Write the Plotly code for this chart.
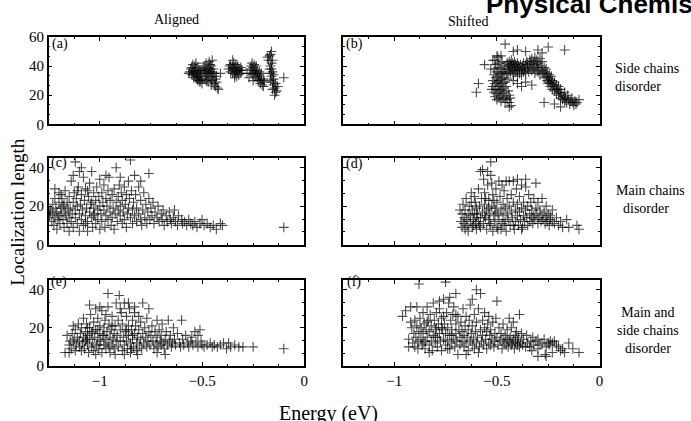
import plotly.graph_objects as go

W, H = 691, 421

# ---------------- data (Energy eV, Localization length) ----------------
a_pts = [
    (-0.56,36),(-0.555,38),(-0.55,34),(-0.55,39),(-0.545,36),(-0.54,32),(-0.54,37),(-0.535,40),(-0.535,35),(-0.53,33),
    (-0.53,38),(-0.525,36),(-0.525,31),(-0.52,34),(-0.52,39),(-0.515,37),(-0.515,32),(-0.51,35),(-0.51,30),(-0.505,33),
    (-0.505,37),(-0.50,31),(-0.50,28),(-0.545,41),(-0.53,42),(-0.52,30),(-0.51,29),(-0.565,35),(-0.54,34),(-0.525,33),
    (-0.49,36),(-0.49,40),(-0.485,33),(-0.485,38),(-0.48,35),(-0.48,42),(-0.475,31),(-0.475,37),(-0.47,39),(-0.47,34),
    (-0.465,36),(-0.465,43),(-0.46,32),(-0.46,38),(-0.455,35),(-0.455,40),(-0.45,30),(-0.45,36),(-0.445,33),(-0.445,38),
    (-0.44,28),(-0.44,35),(-0.435,31),(-0.435,26),(-0.43,29),(-0.43,33),(-0.425,25),(-0.42,24),(-0.47,29),(-0.48,30),
    (-0.455,27),(-0.495,38),(-0.46,41),(-0.41,35),(-0.45,44),
    (-0.37,38),(-0.365,40),(-0.36,36),(-0.36,41),(-0.355,38),(-0.35,35),(-0.35,39),(-0.345,42),(-0.345,37),(-0.34,34),
    (-0.34,39),(-0.335,36),(-0.335,41),(-0.33,38),(-0.33,33),(-0.325,40),(-0.325,36),(-0.32,38),(-0.32,34),(-0.315,37),
    (-0.31,35),(-0.31,39),(-0.305,37),(-0.35,44),(-0.28,35),(-0.34,32),
    (-0.265,38),(-0.26,40),(-0.26,35),(-0.255,42),(-0.255,37),(-0.25,39),(-0.25,34),(-0.245,41),(-0.245,36),(-0.24,38),
    (-0.24,33),(-0.235,35),(-0.235,40),(-0.23,32),(-0.23,37),(-0.225,34),(-0.225,30),(-0.22,36),(-0.22,31),(-0.215,33),
    (-0.215,28),(-0.21,30),(-0.21,35),(-0.205,27),(-0.2,31),(-0.2,26),(-0.195,29),(-0.27,32),(-0.25,30),
    (-0.16,50),(-0.165,48),(-0.17,47),(-0.18,46),(-0.155,44),(-0.16,42),(-0.165,40),(-0.16,38),(-0.155,36),(-0.165,35),
    (-0.16,33),(-0.15,31),(-0.155,29),(-0.165,30),(-0.15,27),(-0.145,25),(-0.155,24),(-0.14,22),(-0.145,20),(-0.135,23),
    (-0.14,28),(-0.15,34),(-0.17,38),(-0.175,44),(-0.10,32),(-0.13,26),
]

b_pts = [
    (-0.52,30),(-0.52,26),(-0.515,34),(-0.515,22),(-0.51,38),(-0.51,28),(-0.51,19),(-0.505,32),(-0.505,24),(-0.505,41),
    (-0.5,36),(-0.5,29),(-0.5,21),(-0.5,17),(-0.495,33),(-0.495,26),(-0.495,39),(-0.49,30),(-0.49,23),(-0.49,18),
    (-0.49,42),(-0.485,35),(-0.485,27),(-0.485,20),(-0.48,38),(-0.48,31),(-0.48,24),(-0.48,16),(-0.475,34),(-0.475,28),
    (-0.475,21),(-0.475,43),(-0.47,36),(-0.47,25),(-0.47,18),(-0.465,40),(-0.465,32),(-0.465,22),(-0.46,29),(-0.46,38),
    (-0.46,15),(-0.455,35),(-0.455,26),(-0.455,19),(-0.45,42),(-0.45,31),(-0.45,17),(-0.445,23),(-0.44,15),(-0.44,20),
    (-0.435,18),(-0.525,24),(-0.51,44),(-0.495,46),(-0.48,47),
    (-0.445,40),(-0.445,36),(-0.44,43),(-0.44,38),(-0.435,35),(-0.435,41),(-0.43,39),(-0.43,44),(-0.425,37),(-0.425,42),
    (-0.42,34),(-0.42,40),(-0.415,38),(-0.415,43),(-0.41,36),(-0.41,41),(-0.405,39),(-0.4,37),(-0.4,42),(-0.4,33),
    (-0.395,40),(-0.39,38),(-0.39,35),(-0.385,41),(-0.38,37),(-0.38,34),(-0.375,39),(-0.37,36),(-0.37,42),(-0.365,38),
    (-0.36,40),(-0.36,35),(-0.355,43),(-0.35,38),(-0.35,41),(-0.345,36),(-0.34,44),(-0.34,39),(-0.335,42),(-0.33,37),
    (-0.33,45),(-0.325,40),(-0.32,43),(-0.32,38),(-0.315,46),(-0.315,35),(-0.31,41),(-0.305,39),(-0.305,44),(-0.3,36),
    (-0.3,42),(-0.295,38),(-0.29,45),(-0.29,34),(-0.285,40),(-0.28,37),(-0.28,43),(-0.275,35),(-0.27,39),(-0.27,32),
    (-0.265,36),(-0.26,33),(-0.26,38),(-0.255,30),(-0.255,35),(-0.25,32),(-0.25,28),(-0.245,34),(-0.245,29),(-0.24,31),
    (-0.24,26),(-0.235,33),(-0.235,28),(-0.23,24),(-0.23,30),(-0.225,27),(-0.22,23),(-0.22,29),(-0.215,25),(-0.21,21),
    (-0.21,27),(-0.205,24),(-0.2,20),(-0.2,26),(-0.195,22),(-0.19,18),(-0.19,24),(-0.185,21),(-0.18,17),(-0.175,19),
    (-0.17,22),(-0.17,16),(-0.165,18),(-0.16,15),(-0.155,20),(-0.15,17),(-0.145,14),(-0.14,16),(-0.135,18),(-0.13,15),
    (-0.125,13),(-0.12,16),(-0.115,14),(-0.11,15),(-0.1,17),
    (-0.6,22),(-0.59,28),(-0.56,41),(-0.46,55),(-0.4,51),(-0.25,53),(-0.17,51),(-0.42,50),(-0.36,50),(-0.3,51),
    (-0.28,49),(-0.4,28),(-0.38,26),(-0.36,29),(-0.33,27),(-0.42,30),(-0.27,15),(-0.19,12),(-0.22,14),(-0.43,13),
    (-0.44,12),(-0.5,47),(-0.53,38),(-0.52,44),
]

c_pts = [
    (-1.245,15),(-1.24,18),(-1.235,12),(-1.23,21),(-1.23,16),(-1.225,10),(-1.22,24),(-1.22,14),(-1.215,19),(-1.21,17),
    (-1.21,8),(-1.205,13),(-1.2,22),(-1.2,15),(-1.2,27),(-1.195,11),(-1.19,19),(-1.19,16),(-1.185,24),(-1.18,13),
    (-1.18,20),(-1.175,9),(-1.17,17),(-1.17,28),(-1.165,15),(-1.16,22),(-1.16,11),(-1.155,18),(-1.15,14),(-1.15,25),
    (-1.15,7),(-1.245,17),(-1.22,29),(-1.19,26),(-1.175,21),
    (-1.145,19),(-1.14,12),(-1.14,33),(-1.135,16),(-1.13,22),(-1.13,9),(-1.125,27),(-1.12,18),(-1.12,14),(-1.12,43),
    (-1.115,24),(-1.11,11),(-1.11,20),(-1.105,30),(-1.1,16),(-1.1,7),(-1.1,38),(-1.095,21),(-1.09,13),(-1.09,26),
    (-1.085,18),(-1.08,35),(-1.08,10),(-1.075,23),(-1.07,15),(-1.07,29),(-1.065,19),(-1.06,12),(-1.06,7),(-1.055,25),
    (-1.05,17),(-1.05,32),(-1.045,21),(-1.04,14),(-1.04,38),(-1.035,9),(-1.03,27),(-1.03,19),(-1.025,16),(-1.02,23),
    (-1.02,11),(-1.015,30),(-1.01,18),(-1.01,13),(-1.005,25),(-1.0,20),(-1.0,8),(-1.0,34),(-1.13,36),(-1.09,40),
    (-1.06,28),(-1.04,22),(-1.11,28),(-1.07,11),(-1.03,15),
    (-0.995,16),(-0.99,27),(-0.99,12),(-0.985,22),(-0.98,18),(-0.98,31),(-0.975,9),(-0.97,24),(-0.97,15),(-0.965,20),
    (-0.96,28),(-0.96,13),(-0.955,35),(-0.95,17),(-0.95,23),(-0.945,10),(-0.94,26),(-0.94,14),(-0.935,19),(-0.93,29),
    (-0.93,8),(-0.925,16),(-0.92,22),(-0.92,40),(-0.915,12),(-0.91,25),(-0.91,18),(-0.905,31),(-0.9,15),(-0.9,20),
    (-0.895,27),(-0.89,11),(-0.89,23),(-0.885,17),(-0.88,30),(-0.88,13),(-0.875,21),(-0.87,26),(-0.87,9),(-0.865,16),
    (-0.86,33),(-0.86,19),(-0.855,24),(-0.85,14),(-0.85,44),(-0.845,28),(-0.84,18),(-0.84,11),(-0.97,36),(-0.9,35),
    (-0.835,22),(-0.83,15),(-0.825,26),(-0.82,12),(-0.82,19),(-0.81,30),(-0.81,16),(-0.8,13),(-0.8,23),(-0.795,10),
    (-0.79,18),(-0.785,27),(-0.78,14),(-0.775,21),(-0.77,11),(-0.765,17),(-0.76,37),(-0.76,24),(-0.755,13),(-0.75,19),
    (-0.745,15),(-0.74,22),(-0.735,11),(-0.73,17),(-0.72,14),(-0.715,20),(-0.71,12),(-0.7,16),(-0.695,13),(-0.69,18),
    (-0.685,10),(-0.8,33),(-0.83,36),
    (-0.675,15),(-0.67,12),(-0.66,17),(-0.655,13),(-0.65,11),(-0.64,14),(-0.635,18),(-0.63,12),(-0.62,10),(-0.615,15),
    (-0.6,13),(-0.595,11),(-0.585,12),(-0.575,10),(-0.565,13),(-0.555,11),(-0.545,10),(-0.535,12),(-0.525,9),(-0.51,11),
    (-0.5,13),(-0.49,10),(-0.475,11),(-0.46,9),(-0.445,10),(-0.43,8),(-0.41,11),(-0.4,10),(-0.1,9),
]

d_pts = [
    (-0.675,12),(-0.67,16),(-0.67,9),(-0.665,21),(-0.66,14),(-0.66,11),(-0.655,18),(-0.65,13),(-0.65,24),(-0.645,10),
    (-0.64,16),(-0.64,7),(-0.635,20),(-0.63,12),(-0.63,15),(-0.625,22),(-0.62,9),(-0.62,18),(-0.615,13),(-0.61,16),
    (-0.61,25),(-0.605,11),(-0.6,19),(-0.6,14),(-0.6,8),(-0.68,18),(-0.655,8),(-0.625,27),(-0.615,10),(-0.605,22),
    (-0.595,16),(-0.59,12),(-0.59,29),(-0.585,20),(-0.58,9),(-0.58,14),(-0.575,24),(-0.57,17),(-0.57,39),(-0.565,11),
    (-0.56,21),(-0.56,27),(-0.555,14),(-0.55,8),(-0.55,18),(-0.545,31),(-0.54,13),(-0.54,23),(-0.535,16),(-0.53,10),
    (-0.53,36),(-0.53,43),(-0.525,20),(-0.52,26),(-0.52,7),(-0.515,15),(-0.51,12),(-0.51,19),(-0.505,29),(-0.5,22),
    (-0.5,9),(-0.495,16),(-0.49,13),(-0.49,33),(-0.485,25),(-0.48,18),(-0.48,8),(-0.475,11),(-0.47,21),(-0.47,15),
    (-0.465,28),(-0.46,12),(-0.46,19),(-0.455,7),(-0.45,24),(-0.45,16),(-0.545,38),(-0.58,38),(-0.565,34),(-0.525,32),
    (-0.585,10),(-0.555,24),(-0.535,11),(-0.515,23),(-0.495,8),(-0.475,31),(-0.465,10),(-0.505,17),(-0.56,15),(-0.54,19),
    (-0.445,13),(-0.44,20),(-0.44,33),(-0.435,10),(-0.43,17),(-0.43,26),(-0.425,14),(-0.42,22),(-0.42,33),(-0.415,8),
    (-0.41,18),(-0.41,12),(-0.405,29),(-0.4,15),(-0.4,21),(-0.395,10),(-0.39,25),(-0.39,17),(-0.385,13),(-0.38,19),
    (-0.38,31),(-0.375,9),(-0.37,15),(-0.37,22),(-0.365,12),(-0.36,18),(-0.36,30),(-0.355,14),(-0.35,20),(-0.35,10),
    (-0.345,26),(-0.34,16),(-0.34,12),(-0.335,22),(-0.33,14),(-0.33,18),(-0.325,11),(-0.32,24),(-0.32,15),(-0.31,32),
    (-0.455,33),(-0.40,34),(-0.36,34),(-0.42,10),(-0.38,8),
    (-0.315,13),(-0.31,19),(-0.305,16),(-0.3,11),(-0.3,22),(-0.295,14),(-0.29,18),(-0.285,12),(-0.28,15),(-0.28,24),
    (-0.275,13),(-0.27,17),(-0.265,11),(-0.26,14),(-0.26,20),(-0.255,12),(-0.25,16),(-0.245,10),(-0.24,13),(-0.24,15),
    (-0.23,12),(-0.22,11),(-0.21,14),(-0.2,10),(-0.19,12),(-0.18,9),(-0.16,13),(-0.15,9),(-0.11,10),(-0.1,8),(-0.23,18),
]

e_pts = [
    (-1.17,7),(-1.16,16),(-1.15,7),(-1.15,11),(-1.145,13),(-1.14,9),(-1.135,17),(-1.13,12),(-1.125,14),(-1.12,8),
    (-1.12,19),(-1.115,11),(-1.11,15),(-1.105,22),(-1.1,10),(-1.1,13),(-1.095,17),(-1.09,8),(-1.09,20),(-1.13,21),
    (-1.085,12),(-1.08,15),(-1.08,25),(-1.075,9),(-1.07,18),(-1.07,13),(-1.065,22),(-1.06,11),(-1.06,16),(-1.055,7),
    (-1.05,20),(-1.05,14),(-1.045,27),(-1.04,10),(-1.04,17),(-1.035,12),(-1.03,23),(-1.03,8),(-1.025,15),(-1.02,19),
    (-1.02,30),(-1.015,11),(-1.01,14),(-1.01,25),(-1.005,9),(-1.0,17),(-1.0,21),(-0.995,13),(-0.99,7),(-0.99,29),
    (-0.985,16),(-0.98,11),(-0.98,20),(-0.975,24),(-0.97,14),(-0.97,9),(-0.965,18),(-0.96,12),(-0.96,31),(-0.955,22),
    (-0.95,15),(-0.95,7),(-0.945,19),(-0.94,11),(-0.94,26),(-0.935,14),(-0.93,17),(-0.93,9),(-0.925,21),(-0.92,13),
    (-0.92,33),(-0.96,38),(-1.05,32),(-1.0,31),(-0.97,27),(-1.06,20),(-1.02,6),(-0.98,16),(-0.955,10),(-1.035,18),
    (-0.925,6),(-1.0,11),(-0.94,21),(-1.065,14),(-1.01,19),
    (-0.915,16),(-0.91,10),(-0.91,24),(-0.905,37),(-0.9,19),(-0.9,13),(-0.895,28),(-0.89,8),(-0.89,22),(-0.885,15),
    (-0.88,11),(-0.88,33),(-0.875,18),(-0.87,26),(-0.87,13),(-0.865,9),(-0.86,21),(-0.86,16),(-0.855,30),(-0.85,12),
    (-0.85,7),(-0.845,19),(-0.84,24),(-0.84,14),(-0.835,10),(-0.83,17),(-0.83,28),(-0.825,21),(-0.82,12),(-0.82,8),
    (-0.815,15),(-0.81,26),(-0.81,19),(-0.805,11),(-0.8,14),(-0.8,23),(-0.795,9),(-0.79,17),(-0.79,33),(-0.785,12),
    (-0.78,20),(-0.775,15),(-0.77,10),(-0.77,25),(-0.765,13),(-0.76,18),(-0.76,30),(-0.86,33),(-0.83,31),(-0.9,30),
    (-0.88,6),(-0.845,9),(-0.815,6),(-0.87,19),(-0.84,16),
    (-0.755,11),(-0.75,16),(-0.745,21),(-0.74,13),(-0.735,9),(-0.73,18),(-0.725,12),(-0.72,15),(-0.72,24),(-0.715,10),
    (-0.71,19),(-0.705,13),(-0.7,11),(-0.7,16),(-0.695,22),(-0.69,12),(-0.685,9),(-0.68,14),(-0.675,18),(-0.67,11),
    (-0.665,24),(-0.66,13),(-0.655,16),(-0.65,10),(-0.645,12),(-0.64,20),(-0.635,14),(-0.63,11),(-0.62,17),(-0.61,12),
    (-0.6,24),(-0.605,10),(-0.72,7),(-0.68,6),
    (-0.595,14),(-0.59,11),(-0.58,16),(-0.57,12),(-0.565,10),(-0.555,13),(-0.545,11),(-0.535,18),(-0.53,12),(-0.52,10),
    (-0.51,19),(-0.505,13),(-0.5,11),(-0.49,10),(-0.475,11),(-0.46,12),(-0.45,10),(-0.44,11),(-0.425,10),(-0.41,11),
    (-0.395,12),(-0.38,9),(-0.37,12),(-0.36,10),(-0.34,11),(-0.32,10),(-0.3,10),(-0.25,10),(-0.1,9),(-0.55,15),(-0.52,16),
]

f_pts = [
    (-0.96,26),(-0.945,29),(-0.93,14),(-0.93,10),(-0.92,31),(-0.915,20),(-0.91,12),(-0.905,17),(-0.9,24),(-0.9,10),
    (-0.895,15),(-0.89,21),(-0.89,31),(-0.885,13),(-0.88,18),(-0.88,43),(-0.885,9),(-0.92,23),
    (-0.875,25),(-0.87,14),(-0.87,20),(-0.865,11),(-0.86,17),(-0.86,28),(-0.855,22),(-0.85,13),(-0.85,9),(-0.845,19),
    (-0.84,31),(-0.84,15),(-0.835,24),(-0.83,11),(-0.83,18),(-0.825,27),(-0.82,13),(-0.82,21),(-0.815,8),(-0.81,16),
    (-0.81,33),(-0.805,24),(-0.8,12),(-0.8,19),(-0.795,28),(-0.79,15),(-0.79,10),(-0.785,22),(-0.78,17),(-0.78,30),
    (-0.775,13),(-0.77,25),(-0.77,8),(-0.765,19),(-0.76,14),(-0.76,35),(-0.755,22),(-0.75,11),(-0.75,17),(-0.745,28),
    (-0.74,13),(-0.74,20),(-0.735,33),(-0.73,16),(-0.73,9),(-0.725,24),(-0.72,12),(-0.72,19),(-0.715,27),(-0.71,14),
    (-0.71,31),(-0.705,10),(-0.7,17),(-0.7,22),(-0.695,13),(-0.69,26),(-0.69,6),(-0.685,19),(-0.68,15),(-0.68,11),
    (-0.75,44),(-0.7,38),(-0.78,34),(-0.73,36),(-0.86,12),(-0.84,23),(-0.8,15),(-0.77,20),(-0.74,9),(-0.72,16),
    (-0.7,27),(-0.83,7),(-0.795,20),(-0.76,26),
    (-0.675,23),(-0.67,13),(-0.67,18),(-0.665,30),(-0.66,10),(-0.66,16),(-0.655,21),(-0.65,12),(-0.65,26),(-0.645,15),
    (-0.64,19),(-0.64,8),(-0.635,24),(-0.63,13),(-0.63,32),(-0.625,17),(-0.62,11),(-0.62,21),(-0.615,14),(-0.61,27),
    (-0.61,9),(-0.605,18),(-0.6,12),(-0.6,23),(-0.6,40),(-0.595,15),(-0.59,30),(-0.585,10),(-0.58,19),(-0.58,38),
    (-0.575,13),(-0.57,24),(-0.57,16),(-0.565,11),(-0.56,20),(-0.56,28),(-0.555,14),(-0.55,9),(-0.55,18),(-0.545,22),
    (-0.54,12),(-0.54,26),(-0.535,16),(-0.53,11),(-0.53,19),(-0.525,14),(-0.52,23),(-0.515,10),(-0.51,17),(-0.51,13),
    (-0.505,25),(-0.5,34),(-0.5,15),(-0.495,11),(-0.49,20),(-0.485,13),(-0.48,17),(-0.475,9),(-0.47,14),(-0.47,22),
    (-0.65,6),(-0.59,7),(-0.62,35),
    (-0.465,12),(-0.46,16),(-0.455,11),(-0.45,14),(-0.45,19),(-0.445,10),(-0.44,13),(-0.44,25),(-0.435,15),(-0.43,11),
    (-0.43,20),(-0.425,12),(-0.42,14),(-0.42,23),(-0.415,9),(-0.41,16),(-0.41,12),(-0.405,18),(-0.4,11),(-0.4,13),
    (-0.395,15),(-0.39,27),(-0.39,10),(-0.385,12),(-0.38,17),(-0.375,11),(-0.37,14),(-0.36,10),(-0.355,16),(-0.35,12),
    (-0.34,10),(-0.335,13),(-0.33,8),
    (-0.325,15),(-0.32,11),(-0.31,13),(-0.3,9),(-0.3,14),(-0.29,11),(-0.28,12),(-0.27,14),(-0.265,6),(-0.26,10),
    (-0.25,12),(-0.245,11),(-0.24,13),(-0.23,12),(-0.22,13),(-0.21,11),(-0.2,10),(-0.19,8),(-0.18,9),(-0.17,7),
    (-0.15,12),(-0.13,9),(-0.1,7),(-0.23,7),(-0.26,5),(-0.3,5),
]

panel_letters = ["(a)", "(b)", "(c)", "(d)", "(e)", "(f)"]
column_titles = ["Aligned", "Shifted"]
row_labels = ["Side chains<br>disorder",
              "Main chains<br>\u00a0\u00a0disorder",
              "Main and<br>side chains<br>disorder"]
x_tickvals = [-1, -0.5, 0]
x_ticktext = ["\u22121", "\u22120.5", "0"]
y_ranges = [[0, 60], [0, 60], [0, 45], [0, 45], [0, 45], [0, 45]]

# ---------------- layout geometry (pixels) ----------------
col_px = [(49, 306), (345, 603)]
row_px = [(30, 121), (156, 246), (283, 372)]

def px_x(p):
    return p / W

def px_y(p):
    return 1 - p / H

SERIF = "Liberation Serif, Times New Roman, serif"
fig = go.Figure()

all_pts = [a_pts, b_pts, c_pts, d_pts, e_pts, f_pts]
layout_axes = {}
for i, pts in enumerate(all_pts):
    r, c = divmod(i, 2)
    n = "" if i == 0 else str(i + 1)
    xs = [p[0] for p in pts]
    ys = [p[1] for p in pts]
    fig.add_trace(go.Scatter(
        x=xs, y=ys, mode="markers", xaxis="x" + n, yaxis="y" + n,
        marker=dict(symbol="cross-thin", size=7,
                    line=dict(width=1.1, color="rgba(0,0,0,0.7)")),
        showlegend=False, hoverinfo="skip"))
    xd = [px_x(col_px[c][0]), px_x(col_px[c][1])]
    yd = [px_y(row_px[r][1]), px_y(row_px[r][0])]
    layout_axes["xaxis" + n] = dict(
        domain=xd, anchor="y" + n, range=[-1.25, 0], showgrid=False, zeroline=False,
        showline=True, linecolor="black", linewidth=1.5, mirror="ticks",
        ticks="inside", ticklen=4, tickwidth=1, tickcolor="black",
        tickvals=x_tickvals, ticktext=x_ticktext, showticklabels=(r == 2),
        tickfont=dict(family=SERIF, size=15, color="black"),
        minor=dict(ticks="inside", ticklen=2, tickwidth=1, tickcolor="black",
                   dtick=0.125, tick0=0, showgrid=False),
        fixedrange=True)
    layout_axes["yaxis" + n] = dict(
        domain=yd, anchor="x" + n, range=y_ranges[i], showgrid=False, zeroline=False,
        showline=True, linecolor="black", linewidth=1.5, mirror="ticks",
        ticks="inside", ticklen=4, tickwidth=1, tickcolor="black",
        dtick=20, tick0=0, showticklabels=(c == 0), ticklabelstandoff=0,
        tickfont=dict(family=SERIF, size=15, color="black"),
        minor=dict(ticks="inside", ticklen=2, tickwidth=1, tickcolor="black",
                   dtick=20 / 3, tick0=0, showgrid=False),
        fixedrange=True)

fig.update_layout(**layout_axes)

ann = []
letter_pos = [(60, 37), (357, 37), (59, 161), (357, 162), (59, 285), (356, 285)]
for t, (x, y) in zip(panel_letters, letter_pos):
    ann.append(dict(text=t, x=px_x(x), y=px_y(y), xref="paper", yref="paper",
                    xanchor="center", yanchor="middle", showarrow=False,
                    font=dict(family=SERIF, size=14, color="black")))
ann.append(dict(text=column_titles[0], x=px_x(178), y=px_y(12), xref="paper", yref="paper",
                xanchor="center", yanchor="middle", showarrow=False,
                font=dict(family=SERIF, size=14, color="black")))
ann.append(dict(text=column_titles[1], x=px_x(471), y=px_y(14), xref="paper", yref="paper",
                xanchor="center", yanchor="middle", showarrow=False,
                font=dict(family=SERIF, size=14, color="black")))
ann.append(dict(text=row_labels[0], x=px_x(617), y=px_y(72), xref="paper", yref="paper",
                xanchor="left", yanchor="middle", align="left", showarrow=False,
                font=dict(family=SERIF, size=14, color="black")))
ann.append(dict(text=row_labels[1], x=px_x(618), y=px_y(199), xref="paper", yref="paper",
                xanchor="left", yanchor="middle", align="left", showarrow=False,
                font=dict(family=SERIF, size=14, color="black")))
ann.append(dict(text=row_labels[2], x=px_x(652), y=px_y(335), xref="paper", yref="paper",
                xanchor="center", yanchor="middle", align="center", showarrow=False,
                font=dict(family=SERIF, size=14, color="black")))
ann.append(dict(text="Localization length", x=px_x(18), y=px_y(212), xref="paper", yref="paper",
                xanchor="center", yanchor="middle", textangle=-90, showarrow=False,
                font=dict(family=SERIF, size=19, color="black")))
ann.append(dict(text="Energy (eV)", x=px_x(330), y=px_y(421), xref="paper", yref="paper",
                xanchor="center", yanchor="middle", showarrow=False,
                font=dict(family=SERIF, size=20, color="black")))
ann.append(dict(text="<b>Physical Chemistry</b>", x=px_x(487), y=px_y(-4), xref="paper", yref="paper",
                xanchor="left", yanchor="middle", showarrow=False,
                font=dict(family="Liberation Sans, Arial, sans-serif", size=26, color="black")))

fig.update_layout(
    width=W, height=H, margin=dict(l=0, r=0, t=0, b=0),
    paper_bgcolor="white", plot_bgcolor="white",
    annotations=ann, showlegend=False)

fig.write_html("out.html")
